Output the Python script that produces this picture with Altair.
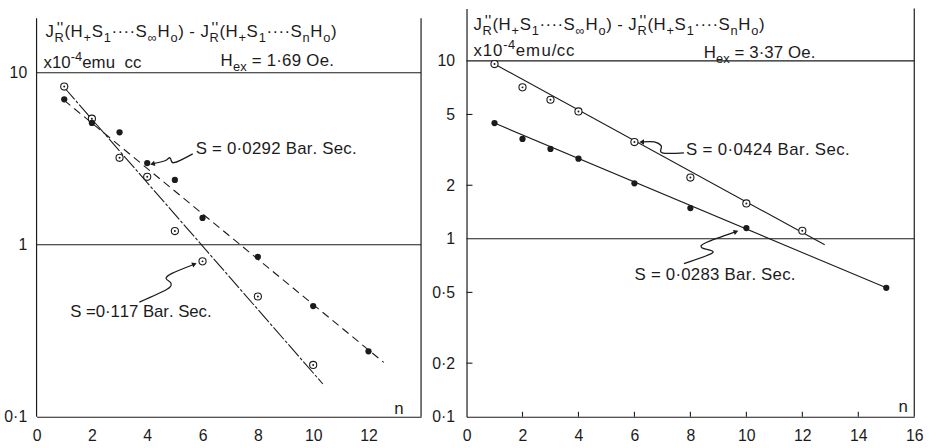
import math

import altair as alt
import pandas as pd

FONT = "Liberation Sans"
INK = "#1b1b1b"

# ---------------------------------------------------------------- data
# Left panel, H_ex = 1.69 Oe
left_open_n = [1, 2, 3, 4, 5, 6, 8, 10]
left_open_v = [8.3, 5.4, 3.2, 2.48, 1.2, 0.80, 0.50, 0.20]
left_fill_n = [1, 2, 3, 4, 5, 6, 8, 10, 12]
left_fill_v = [7.0, 5.1, 4.5, 2.98, 2.38, 1.43, 0.85, 0.44, 0.24]
# straight-line fits, given by their end points
left_open_fit_n = [1.0, 10.35]
left_open_fit_v = [8.2, 0.155]
left_fill_fit_n = [1.0, 12.55]
left_fill_fit_v = [6.9, 0.207]

# Right panel, H_ex = 3.37 Oe
right_open_n = [1, 2, 3, 4, 6, 8, 10, 12]
right_open_v = [9.6, 7.1, 6.05, 5.2, 3.5, 2.21, 1.58, 1.11]
right_fill_n = [1, 2, 3, 4, 6, 8, 10, 15]
right_fill_v = [4.47, 3.64, 3.2, 2.82, 2.05, 1.49, 1.15, 0.53]
right_open_fit_n = [1.0, 12.8]
right_open_fit_v = [9.6, 0.926]
right_fill_fit_n = [1.0, 15.0]
right_fill_fit_v = [4.47, 0.53]

left_x_ticks = [0, 2, 4, 6, 8, 10, 12]
left_y_ticks = [0.1, 1, 10]
right_x_ticks = [0, 2, 4, 6, 8, 10, 12, 14, 16]
right_y_ticks = [0.1, 0.2, 0.5, 1, 2, 5, 10]
right_minor_y = [0.2, 0.5, 2, 5]
right_minor_x = [2, 4, 6, 8, 10, 12, 14]
grid_levels = [1, 10]

left_slope_a = "S = 0·0292 Bar. Sec."
left_slope_b = "S =0·117 Bar. Sec."
right_slope_a = "S = 0·0424 Bar. Sec."
right_slope_b = "S = 0·0283 Bar. Sec."
left_field = " = 1·69 Oe."
right_field = " = 3·37 Oe."

# ---------------------------------------------------------------- layout
LEFT = dict(x0=36, y0=5, W=389, H=413, xmax=13.9, ymax=23.6, top=20.7,
            ydomain=False, lp=10)
RIGHT = dict(x0=470, y0=5, W=453, H=413, xmax=16, ymax=19.7, top=19.7,
             ydomain=True, lp=12)

TXT = 17  # annotation lettering size

# advance widths (1/1000 em) for the sans face used in the annotations
ADV = {" ": 278, "(": 333, ")": 333, "+": 584, "-": 333, ".": 278, "/": 278,
       "=": 584, "·": 333, "∞": 713, "'": 191, "B": 667, "H": 722, "J": 500,
       "O": 778, "R": 722, "S": 667, "a": 556, "c": 500, "e": 556, "m": 833,
       "n": 556, "o": 556, "r": 333, "u": 556, "x": 500}


def to_data(cfg, ax, ay):
    """page pixel -> (n, value) in a panel's scales"""
    n = (ax - cfg["x0"]) / cfg["W"] * cfg["xmax"]
    lt = math.log10(cfg["ymax"])
    v = 10 ** (lt - (ay - cfg["y0"]) / cfg["H"] * (lt + 1))
    return n, v


def typeset(cfg, segs, ax, base, size=TXT, width=None):
    """lay out text with sub/superscripts, one row per glyph"""
    small = round(size * 0.76)
    rows, x, last = [], 0.0, 0.0
    for text, kind in segs:
        if kind == "o":  # double prime placed over the preceding subscript
            for j, ch in enumerate(text):
                rows.append([last + 0.12 * size + j * 0.2 * size,
                             base - 0.2 * size, ch, size - 1])
            continue
        fs = size if kind == "n" else small
        dy = {"n": 0.0, "b": 0.3 * size, "p": -0.42 * size}[kind]
        last = x
        for ch in text:
            rows.append([x, base + dy, ch, fs])
            x += ADV.get(ch, 556) / 1000 * fs
    k = width / x if width else 1.0
    out = []
    for rx, ry, ch, fs in rows:
        n, v = to_data(cfg, ax + rx * k, ry)
        out.append(dict(n=n, v=v, t=ch, fs=fs))
    return out


def header_segments():
    return [("J", "n"), ("R", "b"), ("''", "o"), ("(H", "n"), ("+", "b"),
            ("S", "n"), ("1", "b"), ("····S", "n"), ("∞", "b"), ("H", "n"),
            ("o", "b"), (") - J", "n"), ("R", "b"), ("''", "o"), ("(H", "n"),
            ("+", "b"), ("S", "n"), ("1", "b"), ("····S", "n"), ("n", "b"),
            ("H", "n"), ("o", "b"), (")", "n")]


def arrow_frames(cfg, paths):
    line_rows, head_rows = [], []
    for a, pts in enumerate(paths):
        for i, (px, py) in enumerate(pts):
            n, v = to_data(cfg, px, py)
            line_rows.append(dict(a=a, i=i, n=n, v=v))
        (x0, y0), (x1, y1) = pts[-2], pts[-1]
        ang = math.degrees(math.atan2(x1 - x0, -(y1 - y0))) % 360
        n, v = to_data(cfg, x1, y1)
        head_rows.append(dict(n=n, v=v, ang=ang))
    return pd.DataFrame(line_rows), pd.DataFrame(head_rows)


def panel(cfg, x_ticks, y_ticks, open_n, open_v, fill_n, fill_v, fits,
          arrows, texts, minor=False):
    xaxis = alt.Axis(values=x_ticks, title=None, grid=False, ticks=False,
                     domain=True, labelPadding=11, labelFlush=False,
                     labelOverlap=False, format="d")
    yaxis = alt.Axis(values=y_ticks, title=None, grid=False, ticks=False,
                     domain=cfg["ydomain"], labelPadding=cfg["lp"],
                     labelFlush=False, labelOverlap=False, format="~g",
                     labelExpr="replace(datum.label, '.', '·')")
    xs = alt.Scale(domain=[0, cfg["xmax"]], nice=False, zero=False)
    ys = alt.Scale(type="log", domain=[0.1, cfg["ymax"]], nice=False)

    def X(f):
        return alt.X(f + ":Q", scale=xs, axis=xaxis)

    def Y(f):
        return alt.Y(f + ":Q", scale=ys, axis=yaxis)

    W, H = cfg["W"], cfg["H"]
    layers = []

    layers.append(alt.Chart(pd.DataFrame({"g": grid_levels}))
                  .mark_rule(color=INK, strokeWidth=1.1).encode(y=Y("g")))

    frame = pd.DataFrame({"lo": [0.1], "hi": [cfg["top"]]})
    if not cfg["ydomain"]:
        layers.append(alt.Chart(frame).mark_rule(color=INK, strokeWidth=1.2)
                      .encode(x=alt.value(0), y=Y("lo"), y2=alt.Y2("hi")))
    layers.append(alt.Chart(frame).mark_rule(color=INK, strokeWidth=1.2)
                  .encode(x=alt.value(W), y=Y("lo"), y2=alt.Y2("hi")))

    if minor:
        layers.append(alt.Chart(pd.DataFrame({"t": right_minor_y}))
                      .mark_rule(color=INK, strokeWidth=1.1)
                      .encode(x=alt.value(0), x2=alt.value(6), y=Y("t")))
        layers.append(alt.Chart(pd.DataFrame({"t": right_minor_x}))
                      .mark_rule(color=INK, strokeWidth=1.1)
                      .encode(x=X("t"), y=alt.value(H), y2=alt.value(H - 5)))

    for fn, fv, dash in fits:
        df = pd.DataFrame({"n": fn, "v": fv, "i": range(len(fn))})
        kw = dict(color=INK, strokeWidth=1.1)
        if dash:
            kw["strokeDash"] = dash
        layers.append(alt.Chart(df).mark_line(**kw)
                      .encode(x=X("n"), y=Y("v"), order="i:Q"))

    odf = pd.DataFrame({"n": open_n, "v": open_v})
    fdf = pd.DataFrame({"n": fill_n, "v": fill_v})
    layers.append(alt.Chart(odf).mark_point(shape="circle", filled=True,
                                            fill="white", stroke=INK,
                                            strokeWidth=1.1, size=52,
                                            opacity=1)
                  .encode(x=X("n"), y=Y("v")))
    layers.append(alt.Chart(odf).mark_circle(size=4, color=INK, opacity=1)
                  .encode(x=X("n"), y=Y("v")))
    layers.append(alt.Chart(fdf).mark_circle(size=40, color=INK, opacity=1)
                  .encode(x=X("n"), y=Y("v")))

    adf, hdf = arrow_frames(cfg, arrows)
    layers.append(alt.Chart(adf).mark_line(color=INK, strokeWidth=1.3,
                                           interpolate="cardinal")
                  .encode(x=X("n"), y=Y("v"), detail="a:N", order="i:Q"))
    layers.append(alt.Chart(hdf).mark_point(shape="triangle", filled=True,
                                            size=30, color=INK, opacity=1)
                  .encode(x=X("n"), y=Y("v"),
                          angle=alt.Angle("ang:Q", scale=None)))

    tdf = pd.DataFrame(texts)
    layers.append(alt.Chart(tdf).mark_text(align="left", baseline="alphabetic",
                                           font=FONT, color=INK)
                  .encode(x=X("n"), y=Y("v"), text="t:N",
                          size=alt.Size("fs:Q", scale=None, legend=None)))

    return alt.layer(*layers).properties(width=W, height=H)


# ---------------------------------------------------------------- left
left_texts = (
    typeset(LEFT, header_segments(), 45, 34, width=295)
    + typeset(LEFT, [("x10", "n"), ("-4", "p"), ("emu  cc", "n")], 43, 65, width=99)
    + typeset(LEFT, [("H", "n"), ("ex", "b"), (left_field, "n")], 222, 63, width=115)
    + typeset(LEFT, [(left_slope_a, "n")], 197, 152, width=163)
    + typeset(LEFT, [(left_slope_b, "n")], 70, 317, width=143)
    + typeset(LEFT, [("n", "n")], 398, 415)
)
left_arrows = [
    [(194, 152), (175, 161), (171, 156), (166, 159), (154, 162)],
    [(140, 302), (168, 289), (172, 283), (167, 278), (173, 273), (195, 264)],
]
left = panel(LEFT, left_x_ticks, left_y_ticks, left_open_n, left_open_v,
             left_fill_n, left_fill_v,
             [(left_open_fit_n, left_open_fit_v, [16, 2, 3, 2]),
              (left_fill_fit_n, left_fill_fit_v, [8, 5])],
             left_arrows, left_texts)

# ---------------------------------------------------------------- right
right_texts = (
    typeset(RIGHT, header_segments(), 477, 27, width=295)
    + typeset(RIGHT, [("x10", "n"), ("-4", "p"), ("emu/cc", "n")], 477, 53, width=103)
    + typeset(RIGHT, [("H", "n"), ("ex", "b"), (right_field, "n")], 710, 55, width=113)
    + typeset(RIGHT, [(right_slope_a, "n")], 692, 153, width=166)
    + typeset(RIGHT, [(right_slope_b, "n")], 640, 280, width=163)
    + typeset(RIGHT, [("n", "n")], 907, 413)
)
right_arrows = [
    [(690, 151), (668, 151), (667, 144), (660, 140), (648, 140)],
    [(690, 263), (719, 252), (708, 247), (712, 242), (742, 231)],
]
right = panel(RIGHT, right_x_ticks, right_y_ticks, right_open_n, right_open_v,
              right_fill_n, right_fill_v,
              [(right_open_fit_n, right_open_fit_v, None),
               (right_fill_fit_n, right_fill_fit_v, None)],
              right_arrows, right_texts, minor=True)

chart = (
    alt.hconcat(left, right, spacing=9)
    .properties(padding={"left": 3, "top": 5, "right": 14, "bottom": 0},
                background="white")
    .configure_view(stroke=None)
    .configure_axis(labelFont=FONT, labelFontSize=16, labelColor=INK,
                    domainColor=INK, domainWidth=1.2)
)

chart.save("out.html", embed_options={"renderer": "svg", "actions": False})
